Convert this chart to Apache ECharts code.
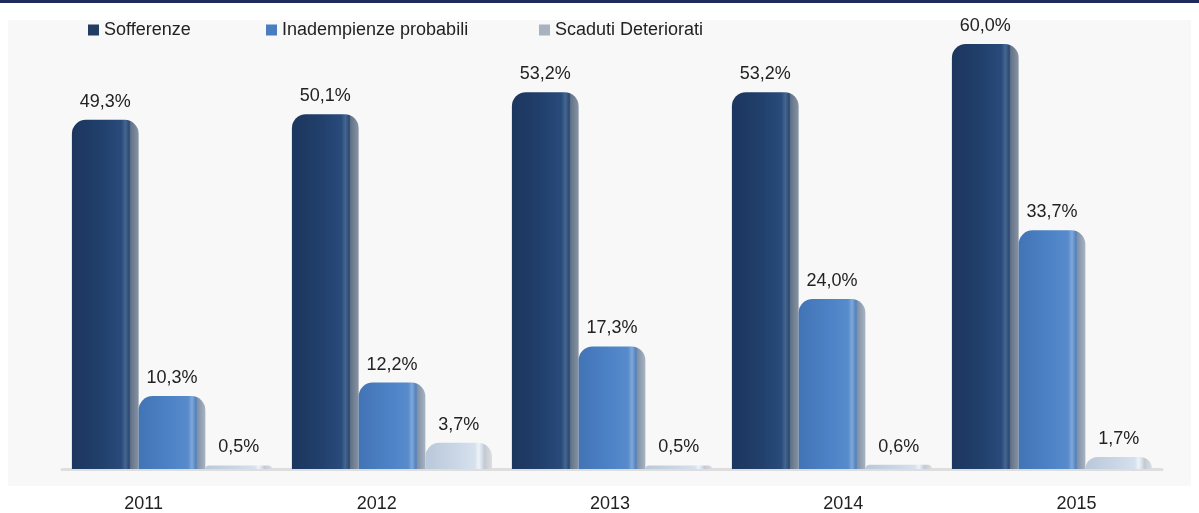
<!DOCTYPE html>
<html>
<head>
<meta charset="utf-8">
<script src="https://cdn.jsdelivr.net/npm/echarts@6/dist/echarts.min.js"></script>
<style>
  html, body { margin: 0; padding: 0; background: #ffffff; }
  #chart { width: 1199px; height: 513px; }
</style>
</head>
<body>
<div id="chart"></div>
<script>
// Anni e quote per categoria di crediti deteriorati
const years = ['2011', '2012', '2013', '2014', '2015'];
const sofferenze = [49.3, 50.1, 53.2, 53.2, 60.0];
const inadempienze = [10.3, 12.2, 17.3, 24.0, 33.7];
const scaduti = [0.5, 3.7, 0.5, 0.6, 1.7];
const seriesNames = ['Sofferenze', 'Inadempienze probabili', 'Scaduti Deteriorati'];

const FONT = "'Liberation Sans', Arial, sans-serif";
const FS = 18;

// cylinder-like horizontal gradient
function cyl(stops) {
  return new echarts.graphic.LinearGradient(0, 0, 1, 0,
    stops.map(function (s) { return { offset: s[0], color: s[1] }; }));
}

const fills = [
  cyl([[0, '#1c365e'], [0.45, '#21406c'], [0.74, '#294b7b'], [0.8, '#45668f'], [0.86, '#2a4872'], [0.88, '#627388'], [1, '#8893a2']]),
  cyl([[0, '#4274b5'], [0.45, '#4c82c6'], [0.74, '#578bcc'], [0.8, '#80a8da'], [0.86, '#4f80c0'], [0.88, '#7f91a8'], [1, '#aab4c1']]),
  cyl([[0, '#b9c8da'], [0.45, '#c9d6e5'], [0.74, '#d6e1ed'], [0.8, '#eef3f8'], [0.86, '#cfd9e5'], [0.88, '#c4c9d0'], [1, '#dcdfe3']])
];
const legendFills = ['#223c62', '#4a7cc0', '#a9b3bf'];

function fmt(v) { return v.toFixed(1).replace('.', ',') + '%'; }

function barSeries(name, data, idx) {
  return {
    name: name,
    type: 'bar',
    data: data,
    barGap: '0%',
    barCategoryGap: '9%',
    itemStyle: { color: fills[idx], borderRadius: [14, 14, 0, 0] },
    label: {
      show: true,
      position: 'top',
      distance: 9,
      formatter: function (p) { return fmt(p.value); },
      fontFamily: FONT,
      fontSize: FS,
      color: '#222222'
    }
  };
}

function legendAt(name, idx, left) {
  return {
    data: [{ name: name, itemStyle: { color: legendFills[idx] } }],
    left: left,
    top: 16,
    icon: 'rect',
    itemWidth: 11,
    itemHeight: 11,
    itemGap: 0,
    textStyle: { fontFamily: FONT, fontSize: FS, color: '#222222' },
    selectedMode: false
  };
}

const chart = echarts.init(document.getElementById('chart'), null, { renderer: 'canvas' });
chart.setOption({
  animation: false,
  backgroundColor: '#ffffff',
  graphic: [
    { type: 'rect', left: 0, top: 0, shape: { width: 1199, height: 3 }, style: { fill: '#1f2a5e' }, z: -10 },
    { type: 'rect', left: 8, top: 20, shape: { width: 1183, height: 466 }, style: { fill: '#f8f8f8' }, z: -10 }
  ],
  legend: [
    legendAt(seriesNames[0], 0, 83),
    legendAt(seriesNames[1], 1, 261),
    legendAt(seriesNames[2], 2, 534)
  ],
  grid: [
    // bars
    { left: 62, right: 37, top: 44, bottom: 44 },
    // year labels, spread slightly wider as on the perspective floor
    { left: 27, right: 6, top: 44, bottom: 44 }
  ],
  xAxis: [
    {
      type: 'category',
      gridIndex: 0,
      data: years,
      axisTick: { show: false },
      axisLine: { show: true, lineStyle: { color: '#dedede', width: 3 } },
      axisLabel: { show: false }
    },
    {
      type: 'category',
      gridIndex: 1,
      data: years,
      axisTick: { show: false },
      axisLine: { show: false },
      axisLabel: { fontFamily: FONT, fontSize: FS, color: '#222222', margin: 27 }
    }
  ],
  yAxis: [
    { type: 'value', gridIndex: 0, min: 0, max: 60, show: false },
    { type: 'value', gridIndex: 1, min: 0, max: 60, show: false }
  ],
  series: [
    barSeries(seriesNames[0], sofferenze, 0),
    barSeries(seriesNames[1], inadempienze, 1),
    barSeries(seriesNames[2], scaduti, 2)
  ]
});
</script>
</body>
</html>
